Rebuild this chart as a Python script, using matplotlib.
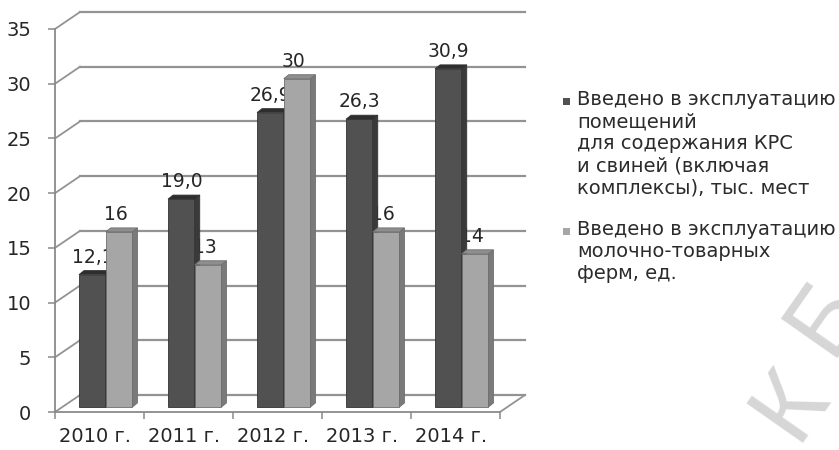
import numpy as np
import matplotlib.pyplot as plt
from matplotlib.patches import Polygon, Rectangle

plt.rcParams['font.family'] = ['DejaVu Sans']

years = ["2010 г.", "2011 г.", "2012 г.", "2013 г.", "2014 г."]
places = [12.1, 19.0, 26.9, 26.3, 30.9]      # тыс. мест
farms = [16, 13, 30, 16, 14]                  # ед.
place_labels = ["12,1", "19,0", "26,9", "26,3", "30,9"]
farm_labels = ["16", "13", "30", "16", "14"]
legend_texts = [
    "Введено в эксплуатацию\nпомещений\nдля содержания КРС\nи свиней (включая\nкомплексы), тыс. мест",
    "Введено в эксплуатацию\nмолочно-товарных\nферм, ед.",
]

W, H = 839, 450
fig = plt.figure(figsize=(W / 100, H / 100), dpi=100)
ax = fig.add_axes([55 / W, 38 / H, 445 / W, 383 / H])
ax.set_xlim(0, 5)
ax.set_ylim(0, 35)

# pixel -> data helpers
px = 5 / 445
py = 35 / 383
BX, BY = 25 * px, 17 * py      # back wall depth
DX, DY = 5 * px, 4 * py        # bar depth
base = 5 * py                  # bars stand mid-floor

grid_c = "#939393"
# back wall gridlines and diagonal connectors
for v in range(0, 36, 5):
    ax.plot([BX, 5 + BX], [v + BY, v + BY], color=grid_c, lw=1.6, zorder=1, clip_on=False)
    ax.plot([0, BX], [v, v + BY], color=grid_c, lw=1.3, zorder=1, clip_on=False)
# right edge of floor
ax.plot([5, 5 + BX], [0, BY], color=grid_c, lw=1.3, zorder=1, clip_on=False)

bw = 0.30
x0 = np.arange(len(years)) + 0.27


def draw_bars(xs, vals, front, side, top, edge):
    bars = ax.bar(xs, vals, width=bw, bottom=base, align="edge",
                  color=front, edgecolor=edge, lw=0.6, zorder=4)
    for b in bars:
        x, y, w, h = b.get_x(), b.get_y(), b.get_width(), b.get_height()
        ax.add_patch(Polygon([[x + w, y], [x + w + DX, y + DY], [x + w + DX, y + h + DY], [x + w, y + h]],
                             closed=True, fc=side, ec=edge, lw=0.6, zorder=4))
        ax.add_patch(Polygon([[x, y + h], [x + w, y + h], [x + w + DX, y + h + DY], [x + DX, y + h + DY]],
                             closed=True, fc=top, ec=edge, lw=0.6, zorder=4))
    return bars


draw_bars(x0, places, "#515151", "#3a3a3a", "#2e2e2e", "#333333")
draw_bars(x0 + bw, farms, "#a6a6a6", "#7a7a7a", "#8e8e8e", "#6e6e6e")

# data labels (drawn behind the bars, as in the original)
for i in range(len(years)):
    ax.text(x0[i] + bw / 2, base + places[i] + 1.1, place_labels[i],
            ha="center", va="baseline", fontsize=13.5, color="#262626", zorder=2)
    ax.text(x0[i] + 1.5 * bw - 0.04, base + farms[i] + 1.1, farm_labels[i],
            ha="center", va="baseline", fontsize=13.5, color="#262626", zorder=2)

for s in ["top", "right"]:
    ax.spines[s].set_visible(False)
for s in ["left", "bottom"]:
    ax.spines[s].set_color("#8a8a8a")
    ax.spines[s].set_linewidth(1.3)
    ax.spines[s].set_zorder(5)

ax.set_yticks(range(0, 36, 5))
ax.tick_params(axis="y", length=5, width=1.1, color="#8a8a8a", pad=12,
               labelsize=14, labelcolor="#262626")
ax.set_xticks(range(0, 6))
ax.set_xticklabels([])
ax.tick_params(axis="x", which="major", length=5, width=1.1, color="#8a8a8a")
ax.set_xticks(np.arange(len(years)) + 0.45, minor=True)
ax.set_xticklabels(years, minor=True)
ax.tick_params(axis="x", which="minor", length=0, pad=11, labelsize=14, labelcolor="#262626")

# legend
fig.add_artist(Rectangle((563 / W, 1 - 105 / H), 7 / W, 7 / H, transform=fig.transFigure,
                         fc="#515151", ec="none"))
fig.text(577 / W, 1 - 90 / H, legend_texts[0], ha="left", va="top", fontsize=14,
         color="#2b2b2b", linespacing=1.2)
fig.add_artist(Rectangle((563 / W, 1 - 235 / H), 7 / W, 7 / H, transform=fig.transFigure,
                         fc="#a6a6a6", ec="none"))
fig.text(577 / W, 1 - 220 / H, legend_texts[1], ha="left", va="top", fontsize=14,
         color="#2b2b2b", linespacing=1.2)

# faint watermark letters (cut by the right edge, as in the scan)
fig.text(792 / W, 1 - 404 / H, "К", fontsize=72, family="Liberation Sans", color="#d6d6d6",
         rotation=55, rotation_mode="anchor", ha="center", va="center", zorder=0)
fig.text(827 / W, 1 - 316 / H, "Б", fontsize=72, family="Liberation Sans", color="#d6d6d6",
         rotation=55, rotation_mode="anchor", ha="center", va="center", zorder=0)

fig.savefig("out.png", dpi=100)
